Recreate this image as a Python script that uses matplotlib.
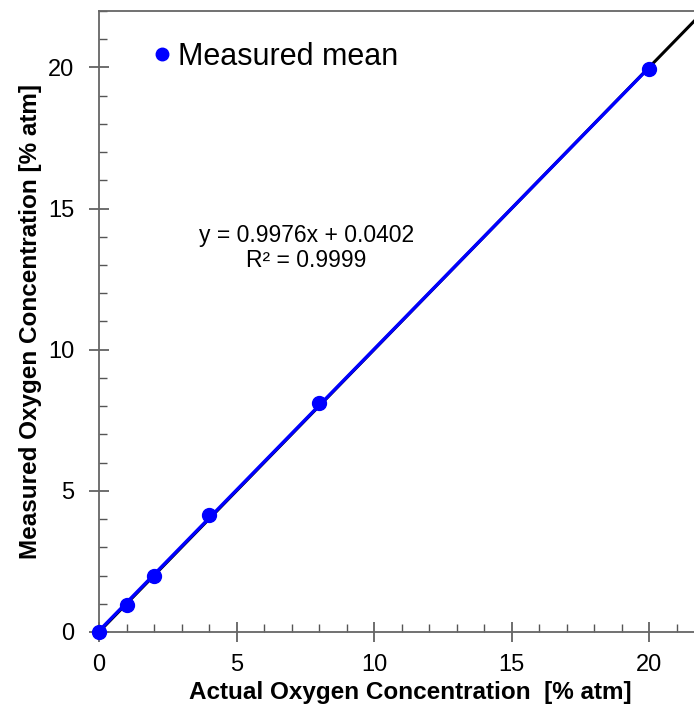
import matplotlib
matplotlib.use("Agg")
import matplotlib.pyplot as plt
import numpy as np
from matplotlib.ticker import MultipleLocator

plt.rcParams['font.family'] = ['Liberation Sans', 'DejaVu Sans']

actual = [0, 1, 2, 4, 8, 20]
measured = [0.0, 0.95, 1.97, 4.13, 8.12, 19.93]
slope = 0.9976
intercept = 0.0402
r2 = 0.9999
xlim = (0, 22)
ylim = (0, 22)

fig = plt.figure(figsize=(6.94, 7.05), dpi=100)
ax = fig.add_axes([99/694, 73/705, 605/694, 621/705])

# identity line
ax.plot([0, 22], [0, 22], color='black', lw=2.2, zorder=2)
# fit line
fx = np.array([0, 20])
ax.plot(fx, slope*fx + intercept, color='#0000ff', lw=2.4, zorder=3)
ax.plot(actual, measured, 'o', color='#0000ff', ms=10, zorder=4, clip_on=False,
        label='Measured mean')

ax.set_xlim(*xlim)
ax.set_ylim(*ylim)
ax.xaxis.set_major_locator(MultipleLocator(5))
ax.yaxis.set_major_locator(MultipleLocator(5))
ax.xaxis.set_minor_locator(MultipleLocator(1))
ax.yaxis.set_minor_locator(MultipleLocator(1))
ax.tick_params(which='major', direction='inout', length=14, width=1.2, color='#555555', labelsize=17)
ax.tick_params(axis='x', which='major', pad=9)
ax.tick_params(axis='y', which='major', pad=11)
ax.tick_params(which='minor', direction='in', length=6, width=1.0, color='#555555')
for s in ['left', 'bottom', 'top']:
    ax.spines[s].set_color('#666666')
    ax.spines[s].set_linewidth(1.3)
ax.spines['right'].set_visible(False)

ax.set_xlabel('Actual Oxygen Concentration  [% atm]', fontsize=17.5, fontweight='bold')
ax.set_ylabel('Measured Oxygen Concentration [% atm]', fontsize=17.5, fontweight='bold')
ax.xaxis.set_label_coords((410 - 99) / 605, -49 / 621)
ax.yaxis.set_label_coords(-57 / 605, 0.5)

ax.text(7.53, 13.6, f'y = {slope}x + {intercept}\nR\u00b2 = {r2}', fontsize=16.5, ha='center', va='center', linespacing=1.1)

ax.legend(loc='upper left', bbox_to_anchor=(0.034, 0.995), frameon=False, fontsize=22,
          handletextpad=0.0, handlelength=1.0, markerscale=0.9)

fig.savefig('out.png', dpi=100)
